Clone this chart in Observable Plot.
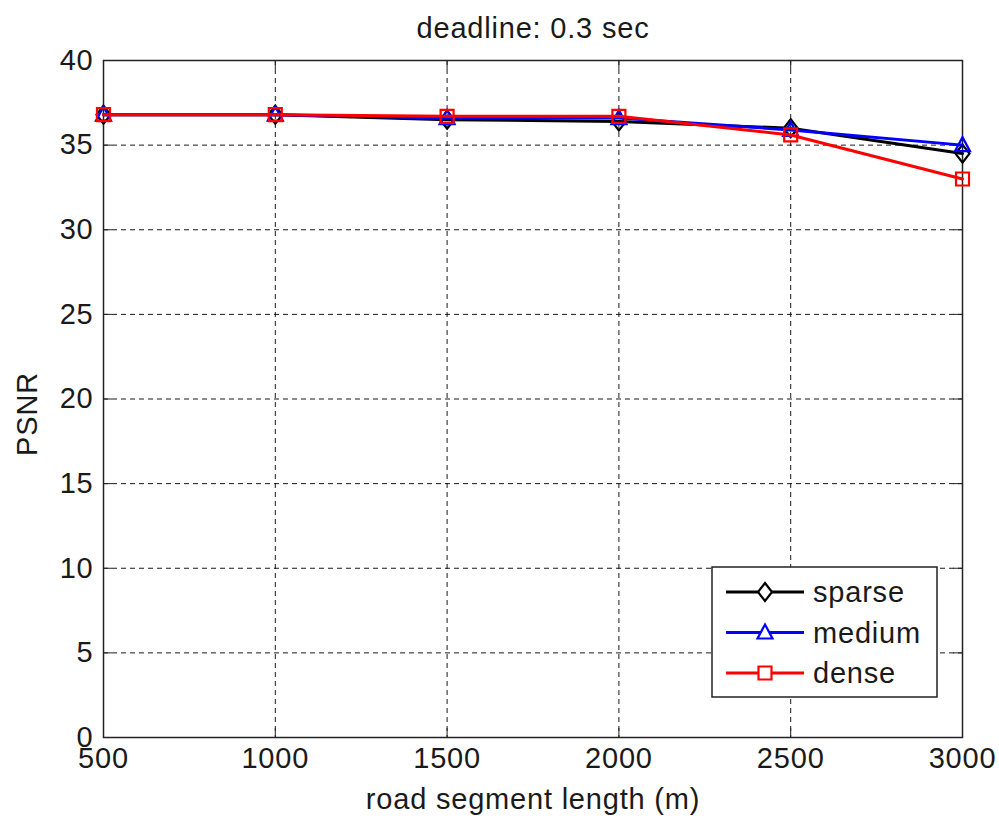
<!DOCTYPE html>
<html>
<head>
<meta charset="utf-8">
<script src="https://cdn.jsdelivr.net/npm/d3@7"></script>
<script src="https://cdn.jsdelivr.net/npm/@observablehq/plot@0.6"></script>
<style>
  body { margin: 0; background: #fff; }
  #wrap { position: relative; width: 999px; height: 818px; }
  #legend { position: absolute; left: 0; top: 0; }
  text { font-family: "Liberation Sans", Arial, sans-serif; letter-spacing: 0.8px; }
</style>
</head>
<body>
<div id="wrap"></div>
<script>
// Road segment length (m) and PSNR per traffic density
const lengths = [500, 1000, 1500, 2000, 2500, 3000];
const sparse = [36.8, 36.8, 36.5, 36.4, 36.0, 34.5];
const medium = [36.8, 36.8, 36.6, 36.6, 35.9, 35.0];
const dense  = [36.8, 36.8, 36.7, 36.7, 35.6, 33.0];
const seriesNames = ["sparse", "medium", "dense"];
const seriesColors = ["#000000", "#0000ff", "#ff0000"];
const xTicks = [500, 1000, 1500, 2000, 2500, 3000];
const yTicks = [0, 5, 10, 15, 20, 25, 30, 35, 40];
const titleText = "deadline: 0.3 sec";
const xLabel = "road segment length (m)";
const yLabel = "PSNR";

// Open marker shapes, drawn at a fixed pixel size
const diamond = {draw(c) { c.moveTo(0, -9); c.lineTo(7, 0); c.lineTo(0, 9); c.lineTo(-7, 0); c.closePath(); }};
const triangle = {draw(c) { c.moveTo(0, -8); c.lineTo(7.5, 6); c.lineTo(-7.5, 6); c.closePath(); }};
const square = {draw(c) { c.rect(-6.5, -6.5, 13, 13); }};
const symbols = [diamond, triangle, square];

const seriesValues = [sparse, medium, dense];
const rows = seriesNames.flatMap((name, i) =>
  lengths.map((len, j) => ({series: name, length: len, psnr: seriesValues[i][j]})));

const W = 999, H = 818;
const mL = 103, mR = 37, mT = 60, mB = 81;
const innerW = W - mL - mR, innerH = H - mT - mB;
const tickLen = 9;
const font = "'Liberation Sans', Arial, sans-serif";

const seriesMarks = seriesNames.flatMap((name, i) => {
  const data = rows.filter(d => d.series === name);
  return [
    Plot.line(data, {x: "length", y: "psnr", stroke: seriesColors[i], strokeWidth: 3}),
    Plot.dot(data, {x: "length", y: "psnr", symbol: symbols[i], stroke: seriesColors[i], fill: "none", strokeWidth: 2.2})
  ];
});

const chart = Plot.plot({
  width: W, height: H,
  marginLeft: mL, marginRight: mR, marginTop: mT, marginBottom: mB,
  style: {fontFamily: font, fontSize: "29px", color: "#1a1a1a", background: "#fff"},
  x: {domain: [500, 3000]},
  y: {domain: [0, 40]},
  marks: [
    Plot.gridX(xTicks, {stroke: "#000", strokeOpacity: 0.9, strokeDasharray: "5,4"}),
    Plot.gridY(yTicks, {stroke: "#000", strokeOpacity: 0.9, strokeDasharray: "5,4"}),
    // inward ticks on all four sides
    Plot.tickX(xTicks, {x: d => d, insetTop: innerH - tickLen, stroke: "#222"}),
    Plot.tickX(xTicks, {x: d => d, insetBottom: innerH - tickLen, stroke: "#222"}),
    Plot.tickY(yTicks, {y: d => d, insetRight: innerW - tickLen, stroke: "#222"}),
    Plot.tickY(yTicks, {y: d => d, insetLeft: innerW - tickLen, stroke: "#222"}),
    Plot.frame({stroke: "#222", strokeWidth: 1.5}),
    Plot.axisX(xTicks, {tickSize: 0, tickPadding: 10, label: null, fontSize: 29, tickFormat: d => String(d)}),
    Plot.axisY(yTicks, {tickSize: 0, tickPadding: 10, label: null, fontSize: 29, tickFormat: d => String(d)}),
    ...seriesMarks,
    Plot.text([titleText], {frameAnchor: "top", dy: -43, fontSize: 29, fill: "#1a1a1a"}),
    Plot.text([xLabel], {frameAnchor: "bottom", dy: 71, fontSize: 29, fill: "#1a1a1a"}),
    Plot.text([yLabel], {frameAnchor: "left", textAnchor: "middle", dx: -76, dy: 15, rotate: -90, fontSize: 29, fill: "#1a1a1a"})
  ]
});
document.getElementById("wrap").appendChild(chart);

// Legend box inside the lower-right corner of the plot area
const lg = d3.select("#wrap").append("svg")
  .attr("id", "legend").attr("width", W).attr("height", H);
const box = {x: 712, y: 567, w: 225, h: 130};
lg.append("rect").attr("x", box.x).attr("y", box.y).attr("width", box.w).attr("height", box.h)
  .attr("fill", "#fff").attr("stroke", "#222").attr("stroke-width", 1.5);
seriesNames.forEach((name, i) => {
  const cy = box.y + 25 + i * 40.5;
  const g = lg.append("g");
  g.append("line").attr("x1", box.x + 14).attr("x2", box.x + 92).attr("y1", cy).attr("y2", cy)
    .attr("stroke", seriesColors[i]).attr("stroke-width", 3);
  const p = d3.path();
  symbols[i].draw(p);
  g.append("path").attr("d", p.toString()).attr("transform", `translate(${box.x + 53},${cy})`)
    .attr("fill", "#fff").attr("stroke", seriesColors[i]).attr("stroke-width", 2.2);
  g.append("text").attr("x", box.x + 101).attr("y", cy).attr("dy", "0.35em")
    .attr("font-size", 29).attr("fill", "#1a1a1a").text(name);
});
</script>
</body>
</html>
